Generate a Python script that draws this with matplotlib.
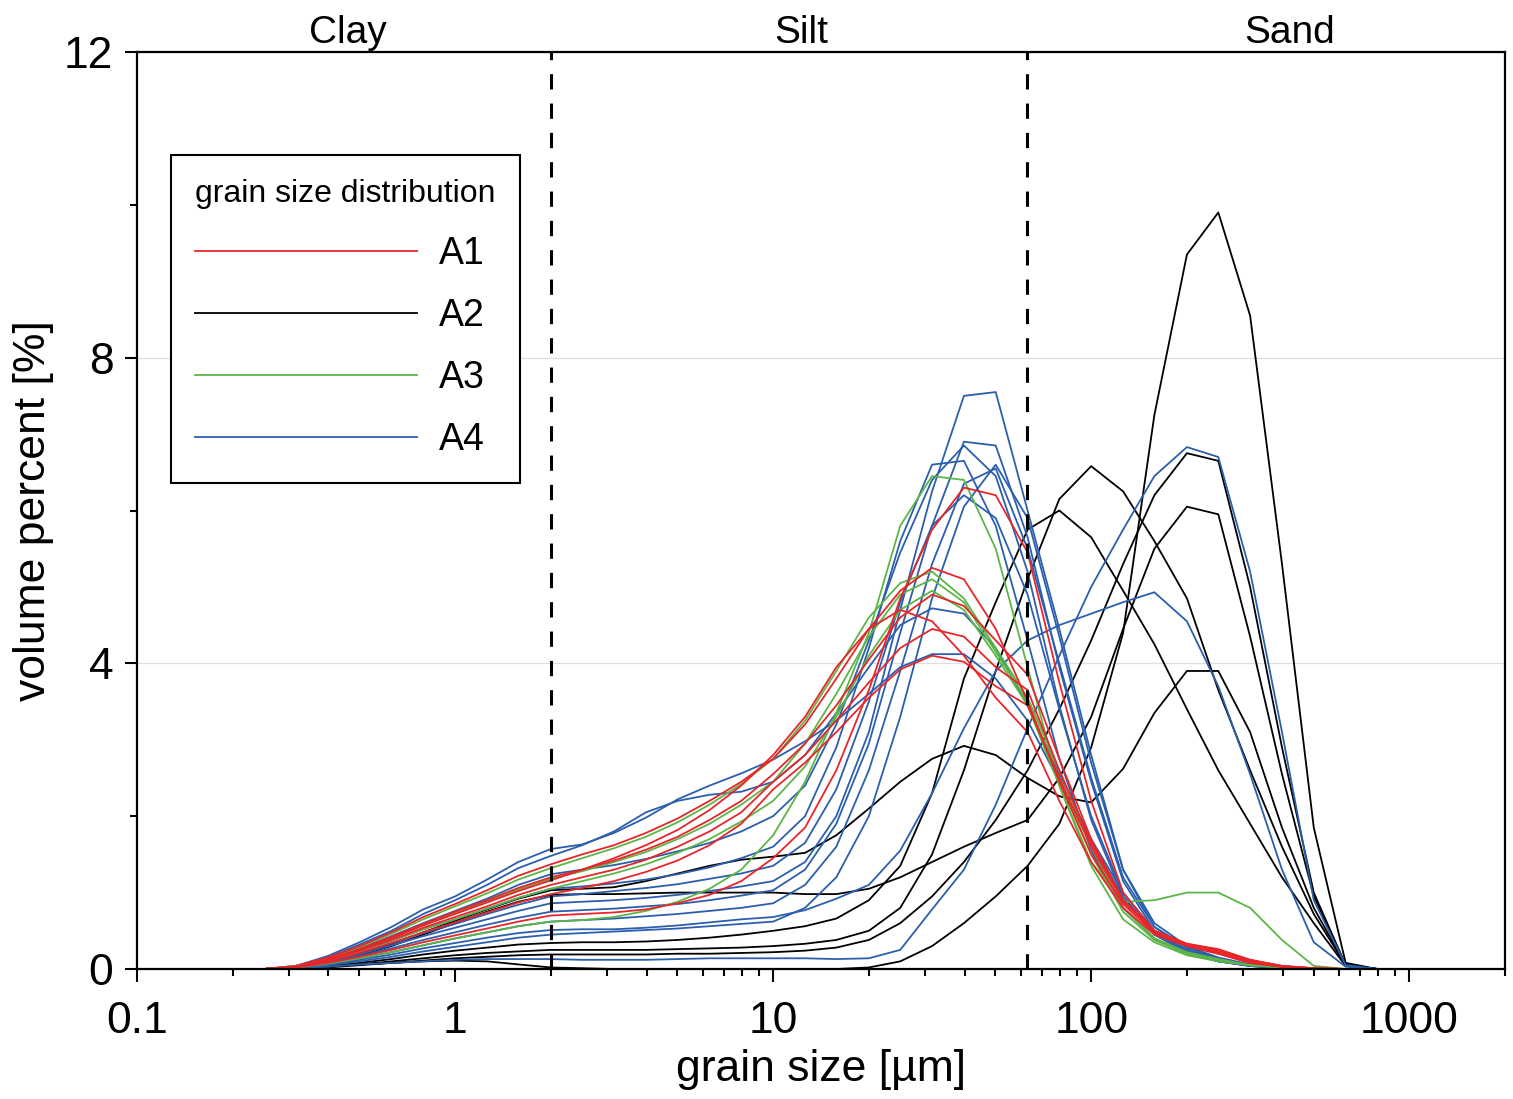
import matplotlib
matplotlib.use('Agg')
from matplotlib import pyplot as plt
from matplotlib.lines import Line2D
from matplotlib.ticker import FixedLocator, LogLocator, NullFormatter

plt.rcParams['font.family'] = ['Liberation Sans', 'DejaVu Sans']

# grain size classes [um] (shared by all samples)
grain_size = [0.11, 0.251, 0.316, 0.398, 0.501, 0.631, 0.794, 1.0, 1.26, 1.58,
              2.0, 2.51, 3.16, 3.98, 5.01, 6.31, 7.94, 10.0, 12.6, 15.8,
              20.0, 25.1, 31.6, 39.8, 50.1, 63.1, 79.4, 100, 126, 158,
              200, 251, 316, 398, 501, 631, 794, 1850]

# volume percent per sample
a1_curves = [
    [0, 0, 0.02, 0.08, 0.16, 0.25, 0.35, 0.44, 0.53, 0.62, 0.7,
     0.72, 0.74, 0.78, 0.86, 0.97, 1.15, 1.45, 1.85, 2.6, 3.65, 4.85, 5.75,
     6.3, 6.2, 5.45, 3.75, 2.2, 1.0, 0.5, 0.3, 0.2, 0.08, 0.03, 0.01, 0, 0, 0],
    [0, 0, 0.04, 0.15, 0.3, 0.48, 0.68, 0.85, 1.03, 1.22, 1.37,
     1.5, 1.62, 1.78, 1.97, 2.2, 2.45, 2.75, 3.2, 3.8, 4.45, 4.95, 5.25,
     5.1, 4.45, 3.5, 2.45, 1.5, 0.85, 0.47, 0.32, 0.24, 0.11, 0.04, 0.01, 0, 0, 0],
    [0, 0, 0.03, 0.13, 0.26, 0.42, 0.59, 0.75, 0.9, 1.06, 1.2,
     1.3, 1.42, 1.56, 1.73, 1.95, 2.2, 2.55, 2.95, 3.45, 4.05, 4.6, 4.9,
     4.75, 4.3, 3.85, 2.75, 1.7, 0.9, 0.5, 0.33, 0.26, 0.12, 0.04, 0.01, 0, 0, 0],
    [0, 0, 0.03, 0.12, 0.25, 0.4, 0.57, 0.72, 0.87, 1.02, 1.16,
     1.3, 1.45, 1.62, 1.82, 2.08, 2.4, 2.8, 3.3, 3.95, 4.45, 4.7, 4.55,
     4.1, 3.55, 3.1, 2.2, 1.4, 0.8, 0.45, 0.3, 0.2, 0.08, 0.03, 0, 0, 0, 0],
    [0, 0, 0.03, 0.12, 0.24, 0.38, 0.54, 0.68, 0.82, 0.97, 1.1,
     1.2, 1.3, 1.43, 1.6, 1.8, 2.05, 2.45, 2.8, 3.25, 3.75, 4.2, 4.45,
     4.35, 3.95, 3.65, 2.6, 1.65, 0.9, 0.5, 0.33, 0.25, 0.12, 0.04, 0.01, 0, 0, 0],
    [0, 0, 0.03, 0.1, 0.21, 0.34, 0.48, 0.61, 0.74, 0.87, 0.98,
     1.06, 1.15, 1.27, 1.42, 1.62, 1.9, 2.35, 2.7, 3.1, 3.55, 3.92, 4.1,
     4.02, 3.7, 3.45, 2.5, 1.6, 0.88, 0.5, 0.32, 0.22, 0.1, 0.03, 0, 0, 0, 0],
]

a2_curves = [
    [0, 0, 0.01, 0.03, 0.06, 0.08, 0.1, 0.11, 0.1, 0.06, 0.02,
     0.01, 0, 0, 0, 0, 0, 0, 0, 0, 0.02, 0.1, 0.3,
     0.6, 0.95, 1.35, 1.9, 2.9, 4.4, 7.25, 9.35, 9.9, 8.55, 5.3, 1.85, 0.08, 0, 0],
    [0, 0, 0.01, 0.03, 0.06, 0.1, 0.14, 0.18, 0.21, 0.23, 0.25,
     0.25, 0.25, 0.25, 0.26, 0.27, 0.28, 0.3, 0.33, 0.38, 0.5, 0.8, 1.5,
     2.6, 3.9, 5.1, 6.15, 6.58, 6.25, 5.6, 4.85, 3.65, 2.6, 1.6, 0.72, 0.05, 0, 0],
    [0, 0, 0.01, 0.04, 0.08, 0.13, 0.19, 0.24, 0.28, 0.32, 0.34,
     0.35, 0.35, 0.36, 0.38, 0.41, 0.45, 0.5, 0.56, 0.66, 0.9, 1.35, 2.3,
     3.8, 4.8, 5.75, 6.0, 5.65, 4.95, 4.25, 3.4, 2.6, 1.9, 1.2, 0.6, 0.04, 0, 0],
    [0, 0, 0.01, 0.02, 0.05, 0.08, 0.11, 0.14, 0.16, 0.18, 0.19,
     0.19, 0.19, 0.19, 0.2, 0.2, 0.21, 0.22, 0.24, 0.28, 0.38, 0.6, 0.95,
     1.4, 1.95, 2.6, 3.4, 4.3, 5.3, 6.2, 6.75, 6.65, 5.0, 2.9, 1.0, 0.05, 0, 0],
    [0, 0, 0.02, 0.08, 0.18, 0.3, 0.45, 0.6, 0.75, 0.88, 0.97,
     0.98, 0.98, 0.99, 1.0, 1.0, 1.0, 1.0, 0.98, 0.98, 1.05, 1.2, 1.4,
     1.6, 1.78, 1.95, 2.5, 3.3, 4.45, 5.5, 6.05, 5.95, 4.35, 2.55, 0.95, 0.05, 0, 0],
    [0, 0, 0.03, 0.1, 0.2, 0.33, 0.48, 0.63, 0.78, 0.92, 1.03,
     1.05, 1.07, 1.15, 1.25, 1.35, 1.43, 1.47, 1.52, 1.75, 2.1, 2.45, 2.75,
     2.92, 2.8, 2.5, 2.26, 2.18, 2.62, 3.35, 3.9, 3.9, 3.1, 1.85, 0.8, 0.05, 0, 0],
]

a3_curves = [
    [0, 0, 0.02, 0.07, 0.14, 0.22, 0.31, 0.4, 0.48, 0.56, 0.62,
     0.64, 0.68, 0.76, 0.88, 1.05, 1.3, 1.75, 2.45, 3.35, 4.4, 5.8, 6.45,
     6.4, 5.5, 3.95, 2.4, 1.35, 0.65, 0.35, 0.18, 0.1, 0.05, 0.02, 0, 0, 0, 0],
    [0, 0, 0.04, 0.14, 0.29, 0.46, 0.65, 0.82, 0.99, 1.17, 1.32,
     1.45, 1.58, 1.73, 1.92, 2.15, 2.42, 2.75, 3.25, 3.9, 4.6, 5.05, 5.2,
     4.85, 4.2, 3.55, 2.6, 1.6, 0.8, 0.4, 0.22, 0.13, 0.05, 0.02, 0, 0, 0, 0],
    [0, 0, 0.03, 0.12, 0.26, 0.41, 0.58, 0.73, 0.89, 1.04, 1.18,
     1.28, 1.4, 1.53, 1.7, 1.9, 2.15, 2.45, 2.95, 3.6, 4.35, 4.9, 5.1,
     4.8, 4.15, 3.5, 2.5, 1.5, 0.75, 0.38, 0.2, 0.12, 0.05, 0.02, 0, 0, 0, 0],
    [0, 0, 0.03, 0.11, 0.23, 0.37, 0.52, 0.65, 0.79, 0.93, 1.05,
     1.15, 1.25, 1.37, 1.52, 1.7, 1.93, 2.2, 2.65, 3.3, 4.1, 4.7, 4.95,
     4.7, 4.1, 3.45, 2.4, 1.4, 0.88, 0.9, 1.0, 1.0, 0.8, 0.38, 0.04, 0, 0, 0],
]

a4_curves = [
    [0, 0, 0.04, 0.17, 0.35, 0.55, 0.78, 0.95, 1.17, 1.4, 1.57,
     1.63, 1.78, 1.98, 2.22, 2.4, 2.56, 2.74, 2.98, 3.25, 3.6, 3.95, 4.12,
     4.12, 3.8, 3.25, 2.45, 1.65, 0.95, 0.45, 0.22, 0.1, 0.04, 0.01, 0, 0, 0, 0],
    [0, 0, 0.04, 0.15, 0.32, 0.5, 0.72, 0.9, 1.1, 1.32, 1.48,
     1.62, 1.8, 2.05, 2.2, 2.28, 2.32, 2.45, 2.8, 3.35, 3.95, 4.5, 4.72,
     4.65, 4.2, 3.45, 2.55, 1.7, 1.0, 0.5, 0.25, 0.12, 0.05, 0.01, 0, 0, 0, 0],
    [0, 0, 0.03, 0.13, 0.27, 0.43, 0.6, 0.76, 0.92, 1.1, 1.24,
     1.3, 1.36, 1.44, 1.54, 1.65, 1.8, 2.0, 2.4, 3.2, 4.3, 5.45, 6.4,
     6.85, 6.45, 5.2, 3.45, 1.95, 0.95, 0.45, 0.22, 0.1, 0.04, 0.01, 0, 0, 0, 0],
    [0, 0, 0.03, 0.11, 0.23, 0.37, 0.52, 0.65, 0.79, 0.93, 1.05,
     1.08, 1.12, 1.17, 1.24, 1.33, 1.45, 1.6, 2.0, 2.9, 4.2, 5.6, 6.6,
     6.65, 5.8, 4.3, 2.75, 1.55, 0.8, 0.4, 0.2, 0.1, 0.04, 0.01, 0, 0, 0, 0],
    [0, 0, 0.03, 0.1, 0.21, 0.34, 0.47, 0.59, 0.72, 0.84, 0.95,
     0.98, 1.02, 1.06, 1.11, 1.18, 1.25, 1.35, 1.65, 2.35, 3.5, 4.8, 5.8,
     6.2, 5.9, 4.9, 3.4, 2.0, 1.0, 0.48, 0.24, 0.12, 0.05, 0.01, 0, 0, 0, 0],
    [0, 0, 0.03, 0.09, 0.19, 0.31, 0.43, 0.54, 0.65, 0.76, 0.86,
     0.88, 0.9, 0.93, 0.97, 1.02, 1.08, 1.15, 1.4, 2.0, 3.1, 4.7, 6.25,
     7.5, 7.55, 6.0, 4.45, 2.8, 1.3, 0.55, 0.28, 0.13, 0.05, 0.01, 0, 0, 0, 0],
    [0, 0, 0.02, 0.08, 0.17, 0.27, 0.38, 0.48, 0.58, 0.67, 0.75,
     0.77, 0.79, 0.82, 0.85, 0.9, 0.96, 1.03, 1.3, 1.9, 2.95, 4.4, 5.8,
     6.9, 6.85, 5.65, 3.95, 2.45, 1.15, 0.5, 0.25, 0.12, 0.05, 0.01, 0, 0, 0, 0],
    [0, 0, 0.02, 0.07, 0.14, 0.22, 0.31, 0.4, 0.48, 0.56, 0.62,
     0.64, 0.66, 0.69, 0.72, 0.76, 0.8, 0.86, 1.1, 1.6, 2.6, 3.9, 5.3,
     6.35, 6.55, 5.5, 4.0, 2.5, 1.2, 0.55, 0.28, 0.14, 0.05, 0.01, 0, 0, 0, 0],
    [0, 0, 0.01, 0.05, 0.1, 0.16, 0.23, 0.29, 0.35, 0.41, 0.45,
     0.47, 0.49, 0.51, 0.53, 0.56, 0.59, 0.62, 0.8, 1.2, 2.0, 3.3, 4.85,
     6.05, 6.6, 5.9, 4.35, 2.7, 1.3, 0.6, 0.3, 0.15, 0.06, 0.01, 0, 0, 0, 0],
    [0, 0, 0.02, 0.06, 0.12, 0.19, 0.27, 0.34, 0.41, 0.47, 0.51,
     0.52, 0.52, 0.54, 0.57, 0.61, 0.65, 0.68, 0.77, 0.92, 1.1, 1.55, 2.3,
     3.15, 3.9, 4.3, 4.5, 4.65, 4.8, 4.93, 4.55, 3.7, 2.55, 1.3, 0.35, 0.03, 0, 0],
    [0, 0, 0.01, 0.03, 0.06, 0.08, 0.1, 0.12, 0.13, 0.13, 0.13,
     0.12, 0.12, 0.12, 0.13, 0.14, 0.14, 0.14, 0.14, 0.13, 0.14, 0.25, 0.78,
     1.3, 2.15, 3.15, 4.1, 5.0, 5.75, 6.45, 6.83, 6.7, 5.2, 3.1, 0.9, 0.05, 0, 0],
]

groups = ['A1', 'A2', 'A3', 'A4']
colors = ['#e8262a', '#000000', '#5bb646', '#2b5fad']
boundaries = [2, 63]  # clay/silt and silt/sand limits [um]
classes = ['Clay', 'Silt', 'Sand']
class_pos = [0.46, 12.3, 420]

fig = plt.figure(figsize=(15.13, 10.99), dpi=100)
ax = fig.add_axes([137 / 1513, 1 - 969 / 1099, 1368 / 1513, 917 / 1099])

# draw samples, red on top
zorders = [2.4, 2.1, 2.3, 2.2]
for curves, c, z in zip([a1_curves, a2_curves, a3_curves, a4_curves], colors, zorders):
    for vals in curves:
        ax.plot(grain_size, vals, color=c, lw=1.3, zorder=z)

for b in boundaries:
    ax.plot([b, b], [0, 12], color='black', lw=2.2, dashes=(5, 4.6), zorder=3)

ax.set_xscale('log')
ax.set_xlim(0.1, 2000)
ax.set_ylim(0, 12)

ax.xaxis.set_major_locator(FixedLocator([0.1, 1, 10, 100, 1000]))
ax.set_xticklabels(['0.1', '1', '10', '100', '1000'])
ax.xaxis.set_minor_locator(LogLocator(base=10, subs=range(2, 10), numticks=20))
ax.xaxis.set_minor_formatter(NullFormatter())
ax.set_yticks([0, 4, 8, 12])
ax.set_yticklabels(['0', '4', '8', '12'])
ax.yaxis.set_minor_locator(FixedLocator([2, 6, 10]))

ax.tick_params(which='major', direction='out', length=9, width=1.5, labelsize=32, pad=8)
ax.tick_params(which='minor', direction='out', length=5, width=1.5)
ax.tick_params(axis='x', which='major', pad=14)

ax.yaxis.grid(True, which='major', color='#dedede', lw=0.9)
ax.set_axisbelow(True)
for s in ax.spines.values():
    s.set_linewidth(1.6)

ax.set_xlabel('grain size [µm]', fontsize=32, labelpad=5)
ax.set_ylabel('volume percent [%]', fontsize=32, labelpad=7)

for name, xp in zip(classes, class_pos):
    ax.text(xp, 1.01, name, transform=ax.get_xaxis_transform(),
            ha='center', va='baseline', fontsize=28)

handles = [Line2D([], [], color=c, lw=1.3) for c in colors]
leg = ax.legend(handles, groups, title='grain size distribution',
                loc='upper left', bbox_to_anchor=(171 / 1513, 1 - 155 / 1099),
                bbox_transform=fig.transFigure, borderaxespad=0,
                fontsize=27, title_fontsize=23, handlelength=5.9,
                handletextpad=0.6, labelspacing=0.7, borderpad=0.65,
                fancybox=False, edgecolor='black', framealpha=1,
                alignment='left')
leg.get_frame().set_linewidth(1.5)
leg.set_zorder(5)

fig.savefig('out.png', dpi=100)
